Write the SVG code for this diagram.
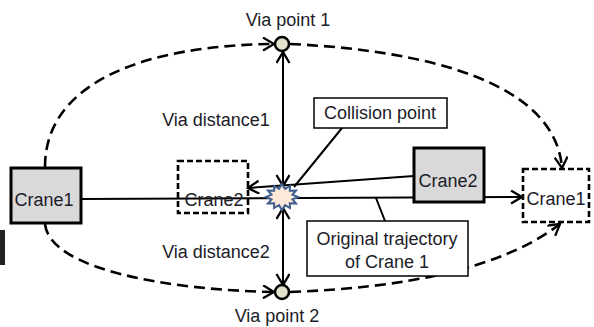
<svg xmlns="http://www.w3.org/2000/svg" width="594" height="327" viewBox="0 0 594 327">
<defs>
<marker id="ah" markerUnits="userSpaceOnUse" markerWidth="16" markerHeight="16" refX="12" refY="7" orient="auto">
<path d="M1,0.5 L12,7 L1,13.5" fill="none" stroke="#000" stroke-width="2.3" stroke-dasharray="none"/>
</marker>
<style>
text{font-family:"Liberation Sans",Arial,sans-serif;font-size:18px;fill:#1c1c28;text-anchor:middle}
.ln{fill:none;stroke:#000;stroke-width:2}
.dash{fill:none;stroke:#000;stroke-width:2.6;stroke-dasharray:11,6}
.crane{fill:#d9d9d9;stroke:#000;stroke-width:3}
.ghost{fill:#fff;fill-opacity:0;stroke:#000;stroke-width:2.6;stroke-dasharray:6,3}
.lbl{fill:#fff;stroke:#000;stroke-width:1.5}
.via{fill:#e2e2cc;stroke:#000;stroke-width:2.5}
</style>
</defs>
<rect x="0" y="0" width="594" height="327" fill="#fff"/>
<rect x="0" y="230" width="5" height="35" fill="#222"/>
<g id="connectors">
<line class="ln" x1="81" y1="199" x2="522" y2="197" marker-end="url(#ah)"/>
<line class="ln" x1="414" y1="176" x2="248" y2="188" marker-end="url(#ah)"/>
<line class="ln" x1="283" y1="120" x2="283" y2="52" marker-end="url(#ah)"/>
<line class="ln" x1="283" y1="120" x2="283" y2="186" marker-end="url(#ah)"/>
<line class="ln" x1="283" y1="245" x2="283" y2="208" marker-end="url(#ah)"/>
<line class="ln" x1="283" y1="245" x2="283" y2="285" marker-end="url(#ah)"/>
<line class="ln" x1="342" y1="128" x2="294" y2="187"/>
<line class="ln" x1="376" y1="198" x2="385" y2="221"/>
<path class="dash" d="M45,167 C45,80 150,45 274,44" marker-end="url(#ah)"/>
<path class="dash" d="M290,44 C420,50 555,80 562,168" marker-end="url(#ah)"/>
<path class="dash" d="M45,224 C50,270 170,290 274,292" marker-end="url(#ah)"/>
<path class="dash" d="M290,292 C400,288 500,270 560,224" marker-end="url(#ah)"/>
</g>
<g id="crane1-start">
<rect class="crane" x="11" y="168" width="70" height="55"/>
<text x="44" y="206">Crane1</text>
</g>
<g id="crane2-ghost">
<rect class="ghost" x="178" y="161" width="70" height="52"/>
<text x="214" y="206">Crane2</text>
</g>
<g id="crane2">
<rect class="crane" x="414" y="148" width="70" height="54"/>
<text x="448" y="187">Crane2</text>
</g>
<g id="crane1-goal">
<rect class="ghost" x="523" y="169" width="66" height="53"/>
<text x="556" y="205">Crane1</text>
</g>
<g id="collision">
<path d="M298,197 L292.5,199.4 L296,203.5 L289.8,203.2 L290,208 L285,205.2 L282,210 L279,205.2 L274,208 L274.2,203.2 L268,203.5 L271.5,199.4 L266,197 L271.5,194.6 L268,190.5 L274.2,190.8 L274,186 L279,188.8 L282,184 L285,188.8 L290,186 L289.8,190.8 L296,190.5 L292.5,194.6 Z" fill="#fde9d9" stroke="#3f5f8f" stroke-width="2"/>
</g>
<g id="via1">
<circle class="via" cx="282" cy="44" r="7"/>
<text x="288" y="26">Via point 1</text>
</g>
<g id="via2">
<circle class="via" cx="282" cy="292" r="7"/>
<text x="277" y="322">Via point 2</text>
</g>
<g id="via-distance1"><text x="216" y="126">Via distance1</text></g>
<g id="via-distance2"><text x="216" y="258">Via distance2</text></g>
<g id="collision-label">
<rect class="lbl" x="314" y="98" width="133" height="30"/>
<text x="380" y="119">Collision point</text>
</g>
<g id="trajectory-label">
<rect class="lbl" x="307" y="221" width="161" height="55"/>
<text x="387" y="245">Original trajectory</text>
<text x="387" y="268">of Crane 1</text>
</g>
</svg>
